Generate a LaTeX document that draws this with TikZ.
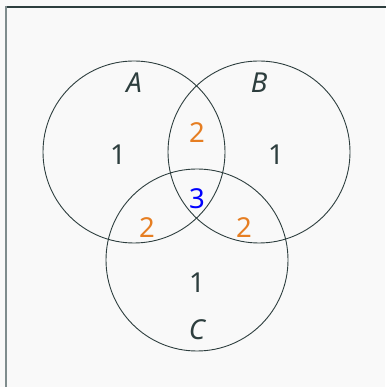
\documentclass[tikz,border=0pt]{standalone}
\usepackage{fontspec}
\setmainfont{Noto Sans}
\definecolor{bg}{HTML}{F9F9F9}
\definecolor{ink}{HTML}{2D3E3E}
\definecolor{frameg}{HTML}{7F8C8D}
\definecolor{orng}{HTML}{E67E22}
\begin{document}
\begin{tikzpicture}[x=1pt,y=1pt,
  setc/.style={draw=ink,line width=0.9pt},
  lab/.style={font=\fontsize{27.5}{30}\selectfont\itshape,text=ink},
  num/.style={font=\fontsize{27.5}{30}\selectfont,text=ink},
  two/.style={num,text=orng},
  three/.style={num,text=blue}]
\fill[bg] (0,0) rectangle (385,387);
\useasboundingbox (0,0) rectangle (385,387);
\draw[ink,line width=1.5pt] (6,380) -- (390,380);
\draw[frameg,line width=2pt] (6,381) -- (6,-5);
\draw[setc] (134,235) circle (91);
\draw[setc] (259,235) circle (91);
\draw[setc] (197,127) circle (91);
\node[lab] (la) at (134,304) {A};
\node[lab] (lb) at (259,304) {B};
\node[lab] (lc) at (197,57) {C};
\node[num] (na) at (118,232) {1};
\node[num] (nb) at (276,232) {1};
\node[num] (nc) at (197,104) {1};
\node[two] (nab) at (197,254) {2};
\node[two] (nac) at (147,159) {2};
\node[two] (nbc) at (244,159) {2};
\node[three] (nabc) at (197,188) {3};
\end{tikzpicture}
\end{document}
